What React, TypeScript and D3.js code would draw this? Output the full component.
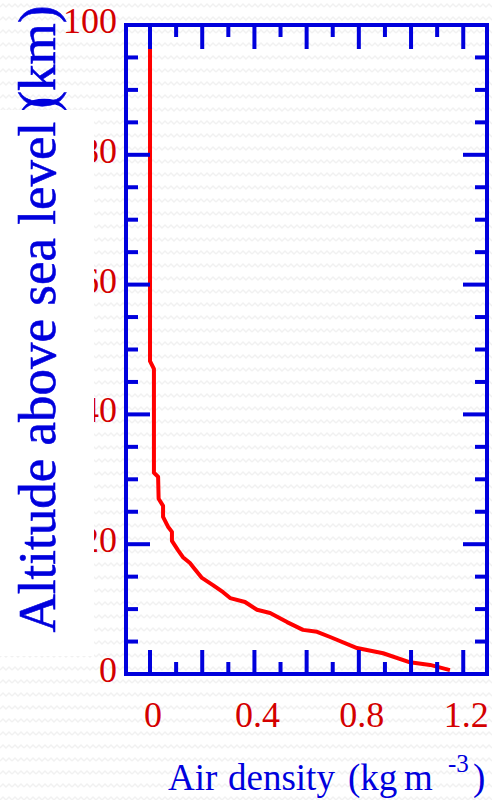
import React from 'react';
import * as d3 from 'd3';

// Data
const density = [0, 0, 0.015, 0.015, 0.031, 0.033, 0.05, 0.05, 0.069, 0.084, 0.084, 0.107, 0.126, 0.153, 0.165, 0.199, 0.241, 0.28, 0.307, 0.364, 0.41, 0.46, 0.525, 0.586, 0.64, 0.69, 0.793, 0.893, 0.996, 1.073, 1.149];
const altitude = [96.5, 48.2, 47.0, 31.0, 30.4, 27.0, 25.9, 24.2, 22.7, 21.9, 20.5, 19.1, 18.0, 17.1, 16.5, 14.8, 13.7, 12.6, 11.7, 11.1, 9.9, 9.4, 8.0, 6.8, 6.5, 5.7, 4.0, 3.2, 1.8, 1.4, 0.6];
const yTickLabels = [0, 20, 40, 60, 80, 100];
const xTickLabels = [0, 0.4, 0.8, 1.2];
const yMajorTicks = [0, 20, 40, 60, 80, 100];
const yMinorTicks = [5, 10, 15, 25, 30, 35, 45, 50, 55, 65, 70, 75, 85, 90, 95];
const xMajorTicks = [0, 0.2, 0.4, 0.6, 0.8, 1.0, 1.2];
const xMinorTicks = [0.1, 0.3, 0.5, 0.7, 0.9, 1.1];
const yTitle = 'Altitude above sea level (km)';
const xTitleWords = ['Air', 'density', '(kg', 'm'];
const xTitleSup = '-3';

const W = 492;
const H = 800;
const left = 126, right = 487, top = 25, bottom = 674;
const BLUE = '#0000dd';
const RED = '#ff0000';
const LABEL_RED = '#d40000';
const FONT = '"Liberation Serif", "Times New Roman", serif';

export default function App() {
  const x = d3.scaleLinear().domain([-0.092, 1.291]).range([left, right]);
  const y = d3.scaleLinear().domain([0, 100]).range([bottom, top]);
  const line = d3.line<number>().x((_, i) => x(density[i])).y((_, i) => y(altitude[i]));
  const pathD = line(density) || '';
  const major = 24, minor = 12, sw = 4;
  const wordX = [168, 228, 348, 404];

  return (
    <svg width={W} height={H} style={{ position: 'absolute', left: 0, top: 0 }}>
      <defs>
        <pattern id="wave" width="12" height="13" patternUnits="userSpaceOnUse">
          <rect width="12" height="13" fill="#ffffff" />
          <path d="M0,7 L3,4 L6,7 L9,4 L12,7" fill="none" stroke="#f1f1f1" strokeWidth="1.4" />
        </pattern>
      </defs>
      <rect x={0} y={0} width={W} height={H} fill="url(#wave)" />

      {/* y tick labels (behind white panel) */}
      {yTickLabels.map((v) => (
        <text key={'yl' + v} x={117} y={y(v) + 8} textAnchor="end" fontFamily={FONT} fontSize={36} fill={LABEL_RED}>
          {v}
        </text>
      ))}
      {/* stray glyph partly hidden by the panel */}
      <text transform={`translate(57,114) rotate(-90)`} fontFamily={FONT} fontSize={53} fill={BLUE}>)</text>

      <rect x={0} y={110} width={94} height={546} fill="#ffffff" />

      {/* y title */}
      <text transform={`translate(55,319) rotate(-90)`} textAnchor="middle" fontFamily={FONT} fontSize={53} fill={BLUE} stroke={BLUE} strokeWidth={0.6}>
        {yTitle}
      </text>

      {/* data line */}
      <path d={pathD} fill="none" stroke={RED} strokeWidth={4} strokeLinejoin="round" />

      {/* frame */}
      <rect x={left} y={top} width={right - left} height={bottom - top} fill="none" stroke={BLUE} strokeWidth={sw} />

      {/* ticks */}
      <g stroke={BLUE} strokeWidth={sw}>
        {yMajorTicks.map((v) => (
          <g key={'ym' + v}>
            <line x1={left} x2={left + major} y1={y(v)} y2={y(v)} />
            <line x1={right} x2={right - major} y1={y(v)} y2={y(v)} />
          </g>
        ))}
        {yMinorTicks.map((v) => (
          <g key={'yn' + v}>
            <line x1={left} x2={left + minor} y1={y(v)} y2={y(v)} />
            <line x1={right} x2={right - minor} y1={y(v)} y2={y(v)} />
          </g>
        ))}
        {xMajorTicks.map((v) => (
          <g key={'xm' + v}>
            <line x1={x(v)} x2={x(v)} y1={bottom} y2={bottom - major} />
            <line x1={x(v)} x2={x(v)} y1={top} y2={top + major} />
          </g>
        ))}
        {xMinorTicks.map((v) => (
          <g key={'xn' + v}>
            <line x1={x(v)} x2={x(v)} y1={bottom} y2={bottom - minor} />
            <line x1={x(v)} x2={x(v)} y1={top} y2={top + minor} />
          </g>
        ))}
      </g>

      {/* x tick labels */}
      {xTickLabels.map((v) => (
        <text key={'xl' + v} x={x(v) + 3} y={727} textAnchor="middle" fontFamily={FONT} fontSize={36} fill={LABEL_RED}>
          {v === 0 ? '0' : v.toFixed(1)}
        </text>
      ))}

      {/* x title */}
      <text y={790} fontFamily={FONT} fontSize={37} fill={BLUE}>
        {xTitleWords.map((w, i) => (
          <tspan key={w} x={wordX[i]}>{w}</tspan>
        ))}
        <tspan x={448} y={772} fontSize={25}>{xTitleSup}</tspan>
        <tspan x={473} y={790}>)</tspan>
      </text>
    </svg>
  );
}
